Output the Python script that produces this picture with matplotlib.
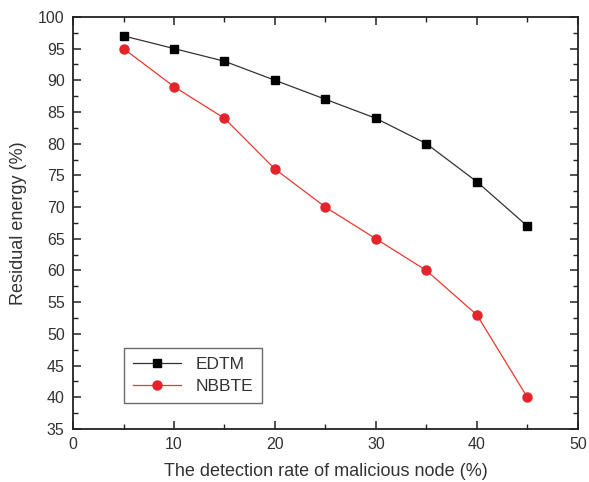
import matplotlib
matplotlib.use("Agg")
import matplotlib.pyplot as plt
from matplotlib.ticker import MultipleLocator

plt.rcParams['font.family'] = ['Liberation Sans', 'DejaVu Sans']

x = [5, 10, 15, 20, 25, 30, 35, 40, 45]
edtm = [97, 95, 93, 90, 87, 84, 80, 74, 67]
nbbte = [95, 89, 84, 76, 70, 65, 60, 53, 40]

fig = plt.figure(figsize=(5.89, 4.82), dpi=100)
ax = fig.add_axes([0.124, 0.110, 0.857, 0.855])

ax.plot(x, edtm, color='#333333', lw=0.9, marker='s', ms=5.3, mfc='black', mec='black', label='EDTM')
ax.plot(x, nbbte, color='#e8392f', lw=0.9, marker='o', ms=6.5, mfc='#e3242b', mec='#e3242b', label='NBBTE')

ax.set_xlim(0, 50)
ax.set_ylim(35, 100)
ax.xaxis.set_major_locator(MultipleLocator(10))
ax.xaxis.set_minor_locator(MultipleLocator(5))
ax.yaxis.set_major_locator(MultipleLocator(5))
ax.yaxis.set_minor_locator(MultipleLocator(2.5))
ax.tick_params(which='both', direction='in', top=True, right=True, color='#222222')
ax.tick_params(which='major', length=6, width=1.1, labelsize=11.5, labelcolor='#333333', pad=6)
ax.tick_params(which='minor', length=3.5, width=1.0)
for s in ax.spines.values():
    s.set_linewidth(1.3)
    s.set_color('#222222')

ax.set_xlabel('The detection rate of malicious node (%)', fontsize=13, color='#333333', labelpad=8)
ax.set_ylabel('Residual energy (%)', fontsize=13, color='#333333', labelpad=8)

leg = ax.legend(loc='lower left', bbox_to_anchor=(0.101, 0.063), borderaxespad=0, fontsize=12.5, frameon=True,
                fancybox=False, edgecolor='#444444', handlelength=2.8, borderpad=0.5, labelspacing=0.4)
leg.get_frame().set_linewidth(1.0)
for t in leg.get_texts():
    t.set_color('#333333')

fig.savefig('out.png', dpi=100)
